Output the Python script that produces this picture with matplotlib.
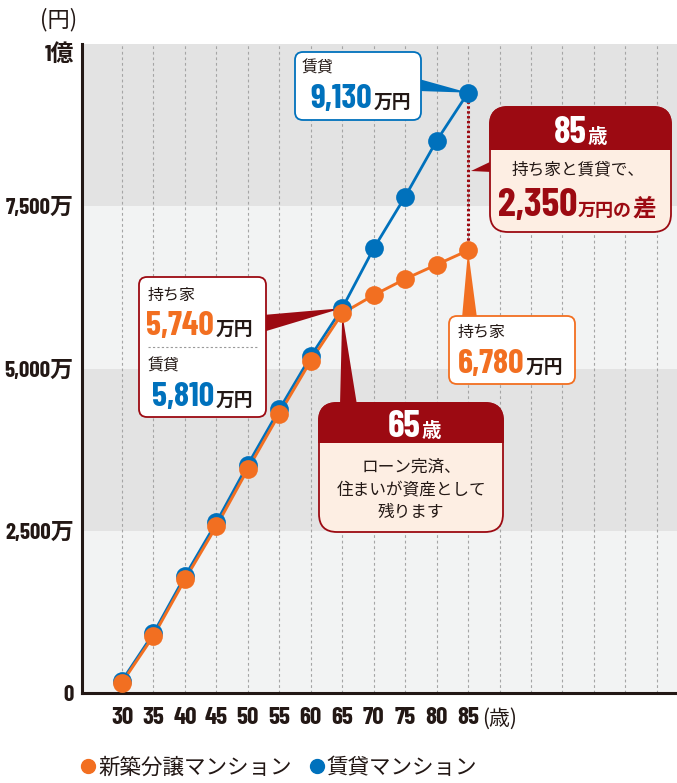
import matplotlib
matplotlib.use("Agg")
import matplotlib.pyplot as plt
import matplotlib.transforms as mtransforms
from matplotlib.patches import FancyBboxPatch, Polygon, Rectangle
from matplotlib.lines import Line2D

# 資産総額（万円）
ages = [30, 35, 40, 45, 50, 55, 60, 65, 70, 75, 80, 85]
own_total = [160, 880, 1750, 2570, 3450, 4300, 5120, 5850, 6130, 6380, 6600, 6820]
rent_total = [190, 920, 1800, 2630, 3520, 4370, 5190, 5930, 6850, 7650, 8510, 9250]

y_ticks = [0, 2500, 5000, 7500, 10000]
y_labels = ["0", "2,500万", "5,000万", "7,500万", "1億"]
bands = [(0, 2500), (2500, 5000), (5000, 7500), (7500, 10000)]
grid_ages = list(range(30, 120, 5))
series_names = ["新築分譲マンション", "賃貸マンション"]

ORANGE = "#f26f21"
BLUE = "#0071bc"
DARKRED = "#9c0a12"
CREAM = "#fdeee3"
INK = "#231815"
BAND_DARK = "#e3e3e3"
BAND_LIGHT = "#f2f3f3"

JP = "Noto Sans CJK JP"
NUM = ["Barlow Condensed", JP]

W, H = 677, 783
fig = plt.figure(figsize=(W / 100, H / 100), dpi=100)
ax = fig.add_axes([82 / W, 1 - 693 / H, (W - 82) / W, (693 - 44) / H])
# image-pixel coordinates (origin top-left) for the callouts
PX = mtransforms.Affine2D().scale(1 / W, -1 / H).translate(0, 1) + fig.transFigure

ax.set_xlim(23.64, 118.2)
ax.set_ylim(0, 10000)

for i, (lo, hi) in enumerate(bands):
    ax.axhspan(lo, hi, color=BAND_LIGHT if i % 2 == 0 else BAND_DARK, lw=0, zorder=0)
for a in grid_ages:
    ax.axvline(a, color="#a5a5a5", lw=0.8, ls=(0, (2.5, 2.5)), zorder=0.5)

# lines, then markers on top
ax.plot(ages, rent_total, color=BLUE, lw=2.0, zorder=2)
ax.plot(ages, own_total, color=ORANGE, lw=2.1, zorder=2.1)
ax.plot(ages, rent_total, "o", color=BLUE, ms=13.5, mew=0, zorder=4)
ax.plot(ages, own_total, "o", color=ORANGE, ms=13.5, mew=0, zorder=4.1)
ax.plot([ages[-1], ages[-1]], [own_total[-1], rent_total[-1]],
        color=DARKRED, lw=2.2, ls=(0, (0.8, 0.8)), zorder=1.8)

for side in ("top", "right"):
    ax.spines[side].set_visible(False)
for side in ("left", "bottom"):
    ax.spines[side].set_color(INK)
    ax.spines[side].set_linewidth(2.2)

ax.set_xticks(ages, [str(a) for a in ages], fontsize=18, fontweight="bold",
              family=NUM, color=INK)
ax.set_yticks(y_ticks, y_labels, fontsize=16.5, fontweight="bold",
              family=NUM, color=INK)
ax.tick_params(axis="x", length=0, pad=10)
ax.tick_params(axis="y", length=0, pad=6)
top_lab = ax.get_yticklabels()[-1]
top_lab.set_transform(top_lab.get_transform()
                      + mtransforms.ScaledTranslation(0, -8 / 100, fig.dpi_scale_trans))

ax.text(482, 719, "(歳)", transform=PX, fontsize=15, family=JP, color=INK,
        ha="left", va="center")
ax.text(59, 20, "(円)", transform=PX, fontsize=16, family=JP, color=INK,
        ha="center", va="center")


def to_px(x, y):
    return PX.inverted().transform(ax.transData.transform((x, y)))


def rbox(x0, y0, x1, y1, face, edge, r=10, lw=1.3):
    p = FancyBboxPatch((x0, y0), x1 - x0, y1 - y0,
                       boxstyle=f"round,pad=0,rounding_size={r}",
                       fc=face, ec=edge, lw=lw, transform=PX, zorder=5)
    ax.add_patch(p)
    return p


def header_box(x0, y0, x1, y1, hb, r=18):
    rbox(x0, y0, x1, y1, CREAM, DARKRED, r=r, lw=1.3)
    hdr = FancyBboxPatch((x0, y0), x1 - x0, y1 - y0,
                         boxstyle=f"round,pad=0,rounding_size={r}",
                         fc=DARKRED, ec=DARKRED, lw=1.3, transform=PX, zorder=5.1)
    ax.add_patch(hdr)
    hdr.set_clip_path(Rectangle((x0 - 5, y0 - 5), x1 - x0 + 10, hb - y0 + 5, transform=PX))


def wedge(p1, p2, tip, color):
    ax.add_patch(Polygon([p1, p2, tip], closed=True, fc=color, ec="none",
                         transform=PX, zorder=3))


def num_unit(xend, base, num, color, nsize=24.5, unit="万円", usize=13.5):
    ax.text(xend, base, num, transform=PX, ha="right", va="baseline", fontsize=nsize,
            fontweight="bold", family=NUM, color=color, zorder=6)
    ax.text(xend + 2, base, unit, transform=PX, ha="left", va="baseline", fontsize=usize,
            fontweight="bold", family=JP, color=INK, zorder=6)


def label(x, y, s, size=11.5, color=INK, ha="left"):
    ax.text(x, y, s, transform=PX, ha=ha, va="center", fontsize=size,
            family=JP, color=color, zorder=6)


# 賃貸 at 85
tip = to_px(ages[-1], rent_total[-1])
wedge((419, 79), (419, 91), tip, BLUE)
rbox(295, 52, 421, 120, "white", BLUE, r=8)
label(302, 68, "賃貸", size=11.5)
num_unit(372, 108, "9,130", BLUE)

# 持ち家 at 85
tip = to_px(ages[-1], own_total[-1])
wedge((462, 318), (477, 318), tip, ORANGE)
rbox(449, 316, 575, 384, "white", ORANGE, r=8)
label(458, 332, "持ち家", size=11.5)
num_unit(524, 373, "6,780", ORANGE)

# 85歳 difference callout
wedge((492, 161), (492, 172), (471, 171), DARKRED)
header_box(490, 107, 671, 232, 150)
ax.text(587, 143, "85", transform=PX, ha="right", va="baseline", fontsize=27,
        fontweight="bold", family=NUM, color="white", zorder=6)
ax.text(588, 143, "歳", transform=PX, ha="left", va="baseline", fontsize=14,
        fontweight="bold", family=JP, color="white", zorder=6)
label(578, 170, "持ち家と賃貸で、", size=12, ha="center")
ax.text(577, 216, "2,350", transform=PX, ha="right", va="baseline", fontsize=29,
        fontweight="bold", family=NUM, color=DARKRED, zorder=6)
ax.text(578, 216, "万円の", transform=PX, ha="left", va="baseline", fontsize=13,
        fontweight="bold", family=JP, color=DARKRED, zorder=6)
ax.text(632, 216, "差", transform=PX, ha="left", va="baseline", fontsize=17,
        fontweight="bold", family=JP, color=DARKRED, zorder=6)

# 65歳 comparison box
tip = to_px(ages[7], rent_total[7])
wedge((263, 315), (263, 332), tip, DARKRED)
rbox(139, 277, 266, 417, "white", DARKRED, r=8)
label(148, 295, "持ち家", size=11.5)
num_unit(214, 335, "5,740", ORANGE)
ax.plot([148, 257], [347, 347], transform=PX, color="#9a9a9a", lw=0.8,
        ls=(0, (2, 2)), zorder=6)
label(148, 366, "賃貸", size=11.5)
num_unit(214, 406, "5,810", BLUE)

# 65歳 loan-paid callout
tip = to_px(ages[7], own_total[7])
wedge((340, 405), (357, 405), tip, DARKRED)
header_box(319, 403, 503, 532, 443)
ax.text(421, 437, "65", transform=PX, ha="right", va="baseline", fontsize=27,
        fontweight="bold", family=NUM, color="white", zorder=6)
ax.text(422, 437, "歳", transform=PX, ha="left", va="baseline", fontsize=14,
        fontweight="bold", family=JP, color="white", zorder=6)
for yy, s in zip([467, 490, 512], ["ローン完済、", "住まいが資産として", "残ります"]):
    label(411, yy, s, size=12, ha="center")

handles = [Line2D([], [], marker="o", ls="none", color=ORANGE, ms=10),
           Line2D([], [], marker="o", ls="none", color=BLUE, ms=10)]
fig.legend(handles, series_names, loc="center left", bbox_to_anchor=(71 / W, 1 - 768 / H),
           ncol=2, frameon=False, handlelength=0.6, handletextpad=0.15,
           columnspacing=0.9, borderpad=0, prop={"family": JP, "size": 15.5},
           labelcolor=INK)

fig.savefig("out.png", dpi=100)
